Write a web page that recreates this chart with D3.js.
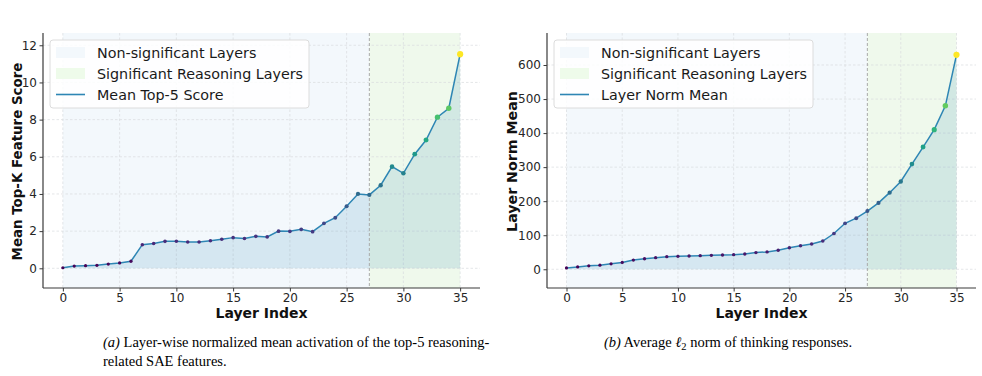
<!DOCTYPE html>
<html>
<head>
<meta charset="utf-8">
<script src="https://cdn.jsdelivr.net/npm/d3@7"></script>
<style>
  body { margin: 0; background: #fff; }
  svg { display: block; }
</style>
</head>
<body>
<div class="canvas"></div>
<script>
// Data
const layers = d3.range(0, 36)
const topScore = [0.03, 0.12, 0.14, 0.16, 0.23, 0.29, 0.38, 1.27, 1.33, 1.45,
  1.46, 1.42, 1.42, 1.48, 1.56, 1.65, 1.60, 1.72, 1.69, 2.00,
  1.99, 2.10, 1.97, 2.42, 2.72, 3.34, 4.00, 3.95, 4.47, 5.47,
  5.11, 6.14, 6.90, 8.13, 8.61, 11.52]
const normMean = [4, 7, 10, 12, 16, 20, 27, 31, 34, 37,
  38, 39, 40, 41, 42, 43, 45, 49, 51, 56,
  63, 69, 74, 83, 105, 135, 150, 171, 195, 225,
  258, 309, 359, 410, 480, 630]
const xTicks = [0, 5, 10, 15, 20, 25, 30, 35]
const yTicksA = [0, 2, 4, 6, 8, 10, 12]
const yTicksB = [0, 100, 200, 300, 400, 500, 600]
const splitLayer = 27
const legendA = ['Non-significant Layers', 'Significant Reasoning Layers', 'Mean Top-5 Score']
const legendB = ['Non-significant Layers', 'Significant Reasoning Layers', 'Layer Norm Mean']

const lineColor = '#2e86b4'

const svg = d3.select('.canvas')
  .append('svg')
  .attr('width', 982)
  .attr('height', 376)

const drawPanel = (opt) => {
  const { left, right, top, bottom, values, yDomain, yTicks, yLabel, labelX, labelSize, legend } = opt

  const x = d3.scaleLinear().domain([-1.75, 36.75]).range([left, right])
  const y = d3.scaleLinear().domain(yDomain).range([bottom, top])

  const g = svg.append('g')

  // shaded regions
  g.append('rect')
    .attr('x', x(0)).attr('y', top)
    .attr('width', x(splitLayer) - x(0)).attr('height', bottom - top)
    .attr('fill', '#f3f8fc')
  g.append('rect')
    .attr('x', x(splitLayer)).attr('y', top)
    .attr('width', x(35) - x(splitLayer)).attr('height', bottom - top)
    .attr('fill', '#eff9ec')

  // grid
  g.selectAll('.gx').data(xTicks).enter().append('line')
    .attr('x1', d => x(d)).attr('x2', d => x(d))
    .attr('y1', top).attr('y2', bottom)
    .attr('stroke', '#d8dbde').attr('stroke-width', 0.7).attr('stroke-dasharray', '2.5,2')
  g.selectAll('.gy').data(yTicks).enter().append('line')
    .attr('x1', left).attr('x2', right)
    .attr('y1', d => y(d)).attr('y2', d => y(d))
    .attr('stroke', '#d8dbde').attr('stroke-width', 0.7).attr('stroke-dasharray', '2.5,2')

  // area under the curve
  const area = d3.area()
    .x((d, i) => x(layers[i]))
    .y0(y(0))
    .y1(d => y(d))
  g.append('path')
    .datum(values)
    .attr('d', area)
    .attr('fill', lineColor)
    .attr('fill-opacity', 0.15)

  // split line
  g.append('line')
    .attr('x1', x(splitLayer)).attr('x2', x(splitLayer))
    .attr('y1', top).attr('y2', bottom)
    .attr('stroke', '#a9a9a9').attr('stroke-width', 1).attr('stroke-dasharray', '3,2')

  // line
  const line = d3.line()
    .x((d, i) => x(layers[i]))
    .y(d => y(d))
  g.append('path')
    .datum(values)
    .attr('d', line)
    .attr('fill', 'none')
    .attr('stroke', lineColor)
    .attr('stroke-width', 1.5)

  // markers coloured by value
  const vmin = d3.min(values), vmax = d3.max(values)
  const norm = d => (d - vmin) / (vmax - vmin)
  g.selectAll('circle').data(values).enter().append('circle')
    .attr('cx', (d, i) => x(layers[i]))
    .attr('cy', d => y(d))
    .attr('r', d => 1.6 + 1.5 * norm(d))
    .attr('fill', d => d3.interpolateViridis(norm(d)))

  // axes
  const xAxis = d3.axisBottom(x).tickValues(xTicks).tickSize(3.5).tickPadding(2)
  const yAxis = d3.axisLeft(y).tickValues(yTicks).tickSize(3.5).tickPadding(2.5)
  const xg = g.append('g').attr('transform', `translate(0, ${bottom})`).call(xAxis)
  const yg = g.append('g').attr('transform', `translate(${left}, 0)`).call(yAxis)
  ;[xg, yg].forEach(a => {
    a.select('.domain').attr('stroke', '#3a3a3a').attr('stroke-width', 1.2)
    a.selectAll('.tick line').attr('stroke', '#3a3a3a')
    a.selectAll('text')
      .attr('fill', '#262626')
      .style('font-family', 'DejaVu Sans')
      .style('font-size', '12px')
  })
  xg.select('.domain').attr('d', `M${left},0H${right}`)
  yg.select('.domain').attr('d', `M0,${bottom}V${top}`)

  // axis labels
  g.append('text')
    .attr('x', (left + right) / 2).attr('y', 318)
    .attr('text-anchor', 'middle')
    .style('font-family', 'DejaVu Sans').style('font-weight', 'bold').style('font-size', '14px')
    .attr('fill', '#111')
    .text('Layer Index')
  g.append('text')
    .attr('transform', `translate(${labelX}, ${(top + bottom) / 2 + 1}) rotate(-90)`)
    .attr('text-anchor', 'middle')
    .style('font-family', 'DejaVu Sans').style('font-weight', 'bold').style('font-size', labelSize + 'px')
    .attr('fill', '#111')
    .text(yLabel)

  // legend
  const lx = left + 7, ly = 40
  const lg = g.append('g').attr('transform', `translate(${lx}, ${ly})`)
  lg.append('rect')
    .attr('width', 259).attr('height', 68).attr('rx', 3)
    .attr('fill', '#ffffff').attr('fill-opacity', 0.85)
    .attr('stroke', '#dcdcdc').attr('stroke-width', 1)
  const swatch = ['#f3f8fc', '#eefbea']
  legend.forEach((name, i) => {
    const cy = 12.5 + i * 21
    if (i < 2) {
      lg.append('rect')
        .attr('x', 6).attr('y', cy - 5.5).attr('width', 29).attr('height', 11)
        .attr('fill', swatch[i])
    } else {
      lg.append('line')
        .attr('x1', 6).attr('x2', 35).attr('y1', cy).attr('y2', cy)
        .attr('stroke', lineColor).attr('stroke-width', 1.6)
    }
    lg.append('text')
      .attr('x', 47).attr('y', cy + 5)
      .style('font-family', 'DejaVu Sans').style('font-size', '14.3px')
      .attr('fill', '#1a1a1a')
      .text(name)
  })
}

drawPanel({
  left: 43, right: 480, top: 33, bottom: 288,
  values: topScore, yDomain: [-1.06, 12.66], yTicks: yTicksA,
  yLabel: 'Mean Top-K Feature Score', labelX: 22, labelSize: 13.4, legend: legendA
})

drawPanel({
  left: 547, right: 976, top: 33, bottom: 288,
  values: normMean, yDomain: [-55, 694], yTicks: yTicksB,
  yLabel: 'Layer Norm Mean', labelX: 517, labelSize: 14.2, legend: legendB
})

// captions
const cap = svg.append('g')
  .style('font-family', 'Liberation Serif, Times New Roman, serif')
  .style('font-size', '14.5px')
  .attr('fill', '#000')
const capA = cap.append('text').attr('x', 103).attr('y', 347)
capA.append('tspan').style('font-style', 'italic').text('(a)')
capA.append('tspan').text(' Layer-wise normalized mean activation of the top-5 reasoning-')
cap.append('text').attr('x', 103).attr('y', 366).text('related SAE features.')
const capB = cap.append('text').attr('x', 728).attr('y', 347).attr('text-anchor', 'middle')
capB.append('tspan').style('font-style', 'italic').text('(b)')
capB.append('tspan').text(' Average ')
capB.append('tspan').style('font-style', 'italic').text('ℓ')
capB.append('tspan').attr('dy', 3).style('font-size', '10.5px').text('2')
capB.append('tspan').attr('dy', -3).text(' norm of thinking responses.')
</script>
</body>
</html>
